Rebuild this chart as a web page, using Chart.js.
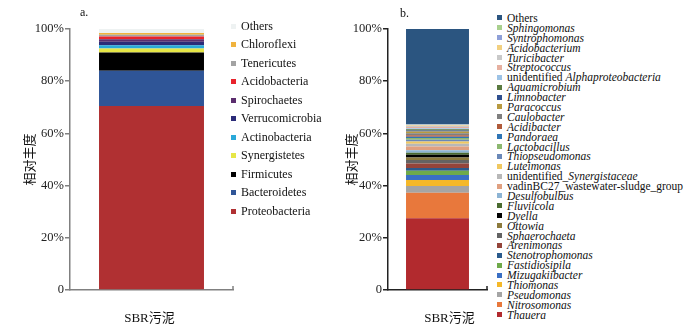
<!DOCTYPE html>
<html>
<head>
<meta charset="utf-8">
<script src="https://cdn.jsdelivr.net/npm/chart.js@4.4.1/dist/chart.umd.min.js"></script>
<style>
  body { margin: 0; width: 700px; height: 329px; background: #fff; position: relative; overflow: hidden;
         font-family: "Liberation Serif", "Times New Roman", Tinos, "DejaVu Serif", "Noto Sans CJK SC", serif; color: #111; }
  canvas { position: absolute; top: 0; }
  #chartA { left: 0; }
  #chartB { left: 330px; }
  .legend { position: absolute; white-space: nowrap; }
  .legend .row { display: flex; align-items: center; }
  .legend .sw { display: inline-block; width: 5px; height: 5px; flex: none; }
  .tag { position: absolute; font-size: 12px; }
</style>
</head>
<body>
<canvas id="chartA" width="240" height="329"></canvas>
<canvas id="chartB" width="165" height="329"></canvas>
<div class="tag" style="left:80px; top:5px;">a.</div>
<div class="tag" style="left:400px; top:6px;">b.</div>
<div class="legend" id="legendA" style="left:231px; top:17px; font-size:12px;"></div>
<div class="legend" id="legendB" style="left:497px; top:13px; font-size:11.5px;"></div>
<script>
// Category and tick labels
const sampleLabels = ["SBR污泥"];
const yTicks = [0, 20, 40, 60, 80, 100];

// Panel a: phylum level (bottom to top)
const phylumNames = ["Proteobacteria", "Bacteroidetes", "Firmicutes", "Synergistetes", "Actinobacteria",
  "Verrucomicrobia", "Spirochaetes", "Acidobacteria", "Tenericutes", "Chloroflexi", "Others"];
const phylumValues = [70.5, 13.5, 7.0, 1.5, 1.3, 1.3, 1.0, 1.0, 0.7, 0.7, 1.5];
const phylumColors = ["#b03032", "#2f5597", "#000000", "#e6e646", "#2aa9d9", "#2b2b78",
  "#5b2d6e", "#e8232c", "#a3a3a3", "#f0b33e", "#eef2f2"];

// Panel b: genus level (bottom to top)
const genusNames = ["Thauera", "Nitrosomonas", "Pseudomonas", "Thiomonas", "Mizugakiibacter", "Fastidiosipila",
  "Stenotrophomonas", "Arenimonas", "Sphaerochaeta", "Ottowia", "Dyella", "Fluviicola", "Desulfobulbus",
  "vadinBC27_wastewater-sludge_group", "unidentified_Synergistaceae", "Luteimonas", "Thiopseudomonas",
  "Lactobacillus", "Pandoraea", "Acidibacter", "Caulobacter", "Paracoccus", "Limnobacter", "Aquamicrobium",
  "unidentified Alphaproteobacteria", "Streptococcus", "Turicibacter", "Acidobacterium", "Syntrophomonas",
  "Sphingomonas", "Others"];
const genusValues = [27.5, 9.8, 2.5, 2.3, 2.0, 1.6, 1.0, 1.8, 1.3, 1.0, 1.0, 0.8, 0.9, 1.5, 1.0, 0.9, 0.7,
  0.6, 0.5, 0.6, 0.8, 0.6, 0.4, 0.5, 0.4, 0.5, 0.4, 0.3, 0.2, 0.2, 36.4];
const genusColors = ["#b22a2e", "#e8783c", "#a5a5a5", "#f5b829", "#3a6fc4", "#6faa4a", "#2a5a8c", "#94443a",
  "#636363", "#8c7a3c", "#000000", "#4a6b30", "#8db4d4", "#e0a080", "#b8b8b8", "#f0c860", "#6a88b8",
  "#8cb870", "#2e75b6", "#b05a3a", "#7f7f7f", "#b89a40", "#2f4f8f", "#5a7a40", "#9dc3e6", "#e6b0a0",
  "#c9c9c9", "#f2d080", "#8fa0d8", "#a9d08e", "#2b5580"];

const fontStack = '"Liberation Serif", "Times New Roman", Tinos, "DejaVu Serif", "Noto Sans CJK SC", serif';

// little upward tick at the right end of the x axis
const endTick = {
  id: "endTick",
  afterDraw(chart, args, opts) {
    const { ctx, chartArea } = chart;
    ctx.save();
    ctx.strokeStyle = opts.color;
    ctx.lineWidth = 1.5;
    ctx.beginPath();
    ctx.moveTo(chartArea.right, chartArea.bottom);
    ctx.lineTo(chartArea.right, chartArea.bottom - 4);
    ctx.stroke();
    ctx.restore();
  },
};

function makeChart(id, names, values, colors, cfg) {
  const ctx = document.getElementById(id).getContext("2d");
  return new Chart(ctx, {
    type: "bar",
    data: {
      labels: sampleLabels,
      datasets: names.map((n, i) => ({
        label: n,
        data: [values[i]],
        backgroundColor: colors[i],
        borderWidth: 0,
        categoryPercentage: 1,
        barPercentage: cfg.barFrac,
      })),
    },
    plugins: [endTick],
    options: {
      responsive: false,
      animation: false,
      layout: { padding: { top: 29, right: cfg.right, bottom: 0, left: 0 } },
      plugins: {
        legend: { display: false },
        tooltip: { enabled: false },
        endTick: { color: cfg.axisColor },
      },
      scales: {
        x: {
          stacked: true,
          grid: { display: false },
          border: { display: true, color: cfg.axisColor, width: 1.5 },
          ticks: { color: "#111", font: { family: fontStack, size: 13 }, padding: 13, labelOffset: cfg.labelOffset },
          afterFit: (s) => { s.height = 39; },
        },
        y: {
          stacked: true,
          min: 0,
          max: 100,
          afterBuildTicks: (s) => { s.ticks = yTicks.map((v) => ({ value: v })); },
          grid: { drawOnChartArea: false, drawTicks: true, tickLength: 5, color: cfg.axisColor, lineWidth: 1.5 },
          border: { display: true, color: cfg.axisColor, width: 1.5 },
          ticks: {
            color: "#222",
            padding: 1,
            font: { family: fontStack, size: 12.5 },
            callback: (v) => (v === 0 ? "0" : v + "%"),
          },
          title: {
            display: true,
            text: "相对丰度",
            color: "#111",
            font: { family: fontStack, size: 13 },
            padding: { top: cfg.titlePad, bottom: 0 },
          },
          afterFit: (s) => { s.width = cfg.yWidth; },
        },
      },
    },
  });
}

makeChart("chartA", phylumNames, phylumValues, phylumColors,
  { barFrac: 0.644, right: 7, yWidth: 70, titlePad: 23, axisColor: "#808080", labelOffset: -2 });
makeChart("chartB", genusNames, genusValues, genusColors,
  { barFrac: 0.636, right: 8, yWidth: 58, titlePad: 15, axisColor: "#222", labelOffset: 12 });

// HTML legends, top row = top of the stack
function genusLabel(name) {
  if (name === "Others" || name.startsWith("vadin")) return name;
  if (name.startsWith("unidentified")) return name.slice(0, 13) + "<i>" + name.slice(13) + "</i>";
  return "<i>" + name + "</i>";
}

function buildLegend(id, names, colors, rowH, gap, fmt) {
  const box = document.getElementById(id);
  for (let i = names.length - 1; i >= 0; i--) {
    const row = document.createElement("div");
    row.className = "row";
    row.style.height = rowH + "px";
    row.innerHTML = `<span class="sw" style="background:${colors[i]}; margin-right:${gap}px"></span><span>${fmt(names[i])}</span>`;
    box.appendChild(row);
  }
}

buildLegend("legendA", phylumNames, phylumColors, 18.5, 5, (n) => n);
buildLegend("legendB", genusNames, genusColors, 9.9, 5, genusLabel);
</script>
</body>
</html>
